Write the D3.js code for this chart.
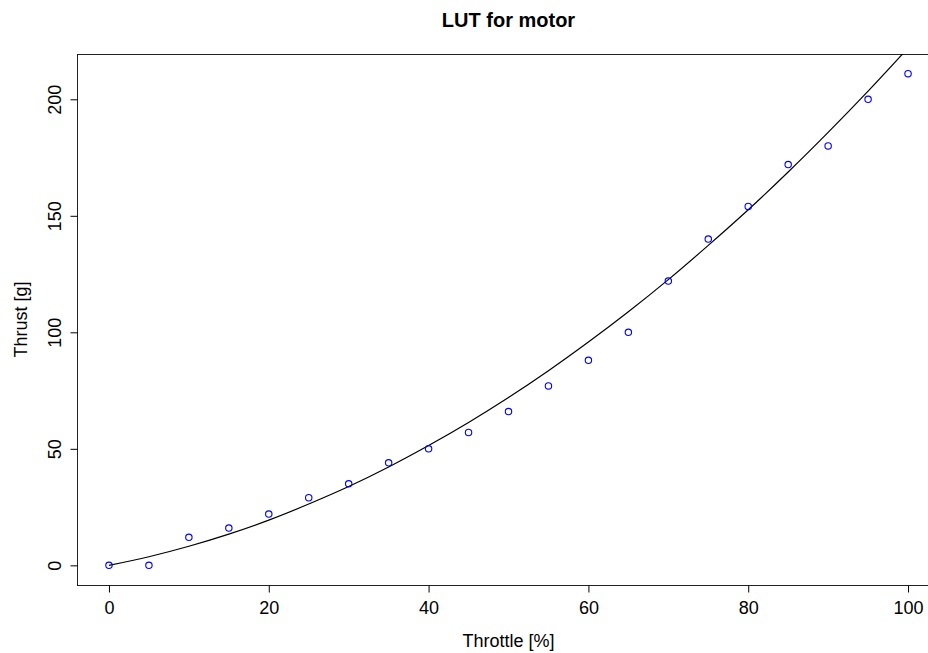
<!DOCTYPE html>
<html>
<head>
<meta charset="utf-8">
<script src="https://cdn.jsdelivr.net/npm/d3@7"></script>
<style>
  body { margin: 0; background: #fff; }
  text { font-family: "Liberation Sans", Arial, Helvetica, sans-serif; fill: #000; }
</style>
</head>
<body>
<script>
// measured throttle / thrust pairs
var throttle = [0, 5, 10, 15, 20, 25, 30, 35, 40, 45, 50, 55, 60, 65, 70, 75, 80, 85, 90, 95, 100];
var thrust = [0, 0, 12, 16, 22, 29, 35, 44, 50, 57, 66, 77, 88, 100, 122, 140, 154, 172, 180, 200, 211];

// fitted curve
var fitX = [0, 5, 10, 15, 20, 25, 30, 35, 40, 45, 50, 55, 60, 65, 70, 75, 80, 85, 90, 95, 100];
var fitY = [0, 3.7, 8.2, 13.4, 19.4, 26.3, 33.8, 42.2, 51.4, 61.3, 72, 83.5, 95.8, 108.8, 122.6, 137.3, 152.6, 168.8, 185.8, 203.5, 222];

var xTicks = [0, 20, 40, 60, 80, 100];
var yTicks = [0, 50, 100, 150, 200];

var width = 928,
    height = 653,
    margin = {top: 54, right: -12, bottom: 68, left: 77};

var svg = d3.select("body").append("svg")
    .attr("width", width)
    .attr("height", height);

var x = d3.scaleLinear().domain([-4, 104]).range([margin.left, width - margin.right]);
var y = d3.scaleLinear().domain([-8.44, 219.44]).range([height - margin.bottom, margin.top]);

svg.append("clipPath").attr("id", "plotclip")
    .append("rect")
    .attr("x", margin.left)
    .attr("y", margin.top)
    .attr("width", width - margin.right - margin.left)
    .attr("height", height - margin.bottom - margin.top);

// box
svg.append("rect")
    .attr("x", margin.left + 0.5)
    .attr("y", margin.top + 0.5)
    .attr("width", width - margin.right - margin.left)
    .attr("height", height - margin.bottom - margin.top)
    .attr("fill", "none")
    .attr("stroke", "#222")
    .attr("stroke-width", 1);

// x axis
var xAxis = d3.axisBottom(x).tickValues(xTicks).tickSize(7).tickPadding(6).tickFormat(d3.format("d"));
var gx = svg.append("g")
    .attr("transform", "translate(0," + (height - margin.bottom + 0.5) + ")")
    .call(xAxis);
gx.selectAll("text").style("font-size", "18px").attr("dy", "0.88em");

// y axis
var yAxis = d3.axisLeft(y).tickValues(yTicks).tickSize(7).tickFormat(d3.format("d"));
var gy = svg.append("g")
    .attr("transform", "translate(" + (margin.left + 0.5) + ",0)")
    .call(yAxis);
gy.selectAll("text")
    .style("font-size", "18px")
    .attr("x", null)
    .attr("dy", null)
    .attr("text-anchor", "middle")
    .attr("transform", "translate(-17,0) rotate(-90)");
svg.selectAll(".domain").remove();

// fitted curve
var line = d3.line()
    .x(function (d, i) { return x(fitX[i]); })
    .y(function (d) { return y(d); })
    .curve(d3.curveMonotoneX);

svg.append("path")
    .datum(fitY)
    .attr("clip-path", "url(#plotclip)")
    .attr("d", line)
    .attr("fill", "none")
    .attr("stroke", "#000")
    .attr("stroke-width", 1.2);

// measured points
svg.append("g").selectAll("circle")
    .data(thrust)
    .enter().append("circle")
    .attr("cx", function (d, i) { return x(throttle[i]); })
    .attr("cy", function (d) { return y(d); })
    .attr("r", 3.2)
    .attr("fill", "none")
    .attr("stroke", "#0000ff")
    .attr("stroke-width", 1.1);

// titles
svg.append("text")
    .attr("x", (margin.left + width - margin.right) / 2)
    .attr("y", 27)
    .attr("text-anchor", "middle")
    .style("font-size", "20px")
    .style("font-weight", "bold")
    .text("LUT for motor");

svg.append("text")
    .attr("x", (margin.left + width - margin.right) / 2)
    .attr("y", 647)
    .attr("text-anchor", "middle")
    .style("font-size", "18px")
    .text("Throttle [%]");

svg.append("text")
    .attr("transform", "translate(27," + y(105.5) + ") rotate(-90)")
    .attr("text-anchor", "middle")
    .style("font-size", "18px")
    .text("Thrust [g]");
</script>
</body>
</html>
